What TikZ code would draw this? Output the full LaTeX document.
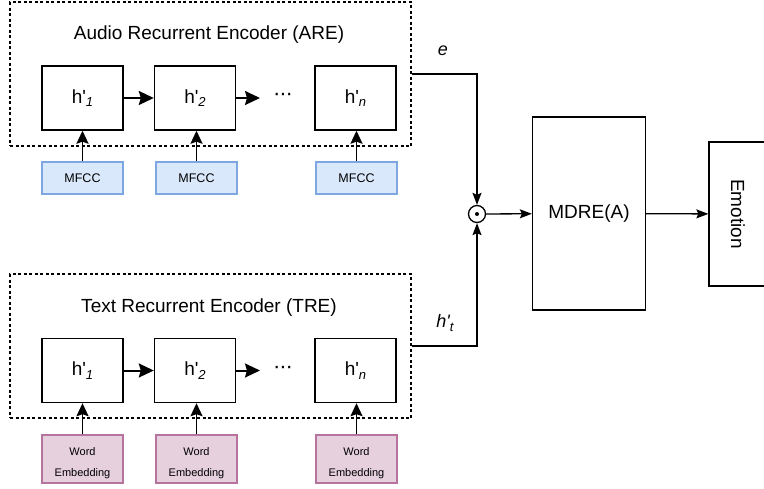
\documentclass[tikz,border=0pt]{standalone}
\usepackage{fontspec}
\setmainfont{Liberation Sans}
\usetikzlibrary{arrows.meta,positioning}
\definecolor{mfccfill}{HTML}{DAE8FC}
\definecolor{mfccdraw}{HTML}{7EA6E0}
\definecolor{wefill}{HTML}{E6D0DE}
\definecolor{wedraw}{HTML}{B5739D}
\newcommand{\hsub}[1]{h\textquotesingle\raisebox{-0.35ex}{\fontsize{13}{13}\selectfont\itshape #1}}
\tikzset{
  hbox/.style={draw, line width=1.4pt, minimum width=81pt, minimum height=64pt, inner sep=0pt, font=\fontsize{19}{19}\selectfont},
  mfccbox/.style={draw=mfccdraw, fill=mfccfill, line width=1.2pt, minimum width=81pt, minimum height=32pt, inner sep=0pt, font=\fontsize{12.5}{12.5}\selectfont},
  webox/.style={draw=wedraw, fill=wefill, line width=1.2pt, minimum width=81pt, minimum height=48pt, inner sep=0pt},
  wetext/.style={inner sep=0pt, align=center, font=\fontsize{11}{21}\selectfont},
  encbox/.style={draw, dash pattern=on 3pt off 2.5pt, line width=1.2pt, minimum width=401pt, minimum height=144pt, inner sep=0pt},
  bigbox/.style={draw, line width=1.3pt, inner sep=0pt, font=\fontsize{19}{19}\selectfont},
  chain/.style={line width=2pt, -{Stealth[length=15pt,width=14pt,inset=2pt]}},
  feed/.style={line width=1.8pt, -{Stealth[length=13pt,width=12pt,inset=2pt]}},
  conn/.style={line width=1.3pt, -{Stealth[length=12pt,width=9pt,inset=2pt]}},
  title/.style={font=\fontsize{19}{19}\selectfont},
  dots/.style={font=\fontsize{22}{22}\selectfont, inner sep=0pt},
  lbl/.style={font=\fontsize{18}{18}\selectfont\itshape}
}
\begin{document}
\begin{tikzpicture}[x=1pt,y=-1pt]
\useasboundingbox (0,0) rectangle (764,488);
\clip (0,0) rectangle (764,488);
% Audio encoder
\node[encbox] (are) at (210.5,74) {};
\node[title] (aret) at (209,35) {Audio Recurrent Encoder (ARE)};
\node[hbox] (a1) at (82.5,98) {\hsub{1}};
\node[hbox] (a2) at (195,98) {\hsub{2}};
\node[hbox] (an) at (355.5,98) {\hsub{n}};
\node[dots] (adots) at (283,97) {\textperiodcentered\kern-1pt\textperiodcentered\kern-1pt\textperiodcentered};
\coordinate (a2end) at (260,98);
\draw[chain] (a1) -- (a2);
\draw[chain] (a2) -- (a2end);
\node[mfccbox] (m1) at (82.5,178) {MFCC};
\node[mfccbox] (m2) at (196.5,178) {MFCC};
\node[mfccbox] (m3) at (356.5,178) {MFCC};
\draw[feed] (m1.north) -- (m1.north |- a1.south);
\draw[feed] (m2.north) -- (m2.north |- a2.south);
\draw[feed] (m3.north) -- (m3.north |- an.south);
% Text encoder
\node[encbox] (tre) at (210.5,346) {};
\node[title] (tret) at (209,308) {Text Recurrent Encoder (TRE)};
\node[hbox] (t1) at (82.5,370.5) {\hsub{1}};
\node[hbox] (t2) at (195,370.5) {\hsub{2}};
\node[hbox] (tn) at (355.5,370.5) {\hsub{n}};
\node[dots] (tdots) at (283,369.5) {\textperiodcentered\kern-1pt\textperiodcentered\kern-1pt\textperiodcentered};
\coordinate (t2end) at (260,370.5);
\draw[chain] (t1) -- (t2);
\draw[chain] (t2) -- (t2end);
\node[webox] (w1) at (82.5,459) {};
\node[webox] (w2) at (196.5,459) {};
\node[webox] (w3) at (356.5,459) {};
\node[wetext] (w1t) at ([yshift=-4pt]w1.center) {Word\\Embedding};
\node[wetext] (w2t) at ([yshift=-4pt]w2.center) {Word\\Embedding};
\node[wetext] (w3t) at ([yshift=-4pt]w3.center) {Word\\Embedding};
\draw[feed] (w1.north) -- (w1.north |- t1.south);
\draw[feed] (w2.north) -- (w2.north |- t2.south);
\draw[feed] (w3.north) -- (w3.north |- tn.south);
% fusion
\node[draw, circle, line width=1.3pt, minimum size=17pt, inner sep=0pt] (dot) at (477,214) {};
\fill (dot.center) circle (2pt);
\node[bigbox, minimum width=113pt, minimum height=193pt] (mdre) at (589,213.5) {MDRE(A)};
\node[bigbox, minimum width=58pt, minimum height=144pt] (emo) at (738,214) {\rotatebox{-90}{Emotion}};
\draw[conn] (are.east) -| (dot.north);
\draw[conn] (tre.east) -| (dot.south);
\draw[conn] (dot) -- (mdre);
\draw[conn] (mdre) -- (emo);
\node[lbl] (elbl) at (443,51) {e};
\node[lbl] (hlbl) at (445,323) {h\textquotesingle\raisebox{-0.35ex}{\fontsize{13}{13}\selectfont t}};
\end{tikzpicture}
\end{document}
